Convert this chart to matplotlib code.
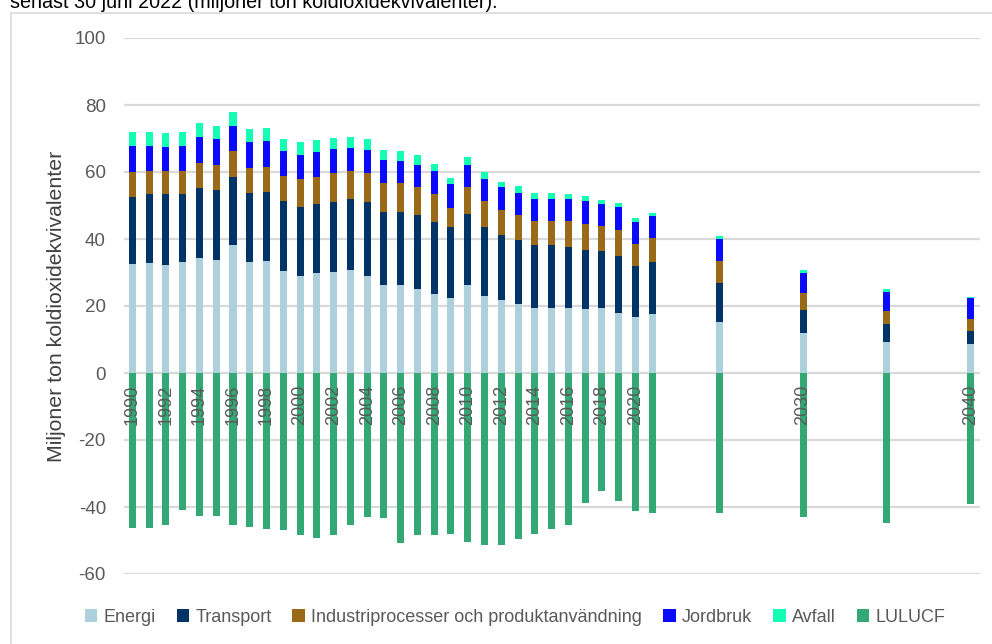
import matplotlib
matplotlib.use("Agg")
import matplotlib.pyplot as plt
from matplotlib.patches import Rectangle
import numpy as np

years = list(range(1990, 2022)) + [2025, 2030, 2035, 2040]

energi = [32.5, 32.8, 32.1, 33.1, 34.4, 33.7, 38.1, 33.1, 33.4, 30.4, 29.1, 29.8, 30.1, 30.8, 29.1,
          26.4, 26.4, 25.0, 23.6, 22.3, 26.4, 23.0, 21.7, 20.7, 19.4, 19.4, 19.4, 19.0, 19.4, 18.0, 16.7, 17.7,
          15.3, 12.0, 9.4, 8.8]
transport = [20.1, 20.5, 21.2, 20.2, 20.8, 20.9, 20.5, 20.5, 20.5, 20.9, 20.5, 20.5, 20.8, 21.2, 21.8,
             21.7, 21.7, 22.1, 21.5, 21.2, 21.0, 20.5, 19.4, 19.1, 18.7, 18.7, 18.1, 17.8, 17.1, 16.9, 15.2, 15.5,
             11.5, 6.7, 5.1, 3.6]
industri = [7.3, 7.0, 7.0, 7.0, 7.4, 7.6, 7.6, 7.6, 7.6, 7.6, 8.3, 8.3, 8.7, 8.3, 8.7,
            8.5, 8.5, 8.4, 8.2, 5.9, 8.1, 7.8, 7.6, 7.3, 7.3, 7.3, 7.9, 7.6, 7.3, 7.9, 6.7, 7.0,
            6.6, 5.3, 3.9, 3.6]
jordbruk = [7.9, 7.5, 7.2, 7.5, 7.9, 7.7, 7.6, 7.7, 7.7, 7.3, 7.3, 7.3, 7.3, 6.9, 6.9,
            6.9, 6.6, 6.7, 6.9, 6.9, 6.7, 6.6, 6.7, 6.6, 6.6, 6.6, 6.6, 7.0, 6.6, 6.7, 6.6, 6.6,
            6.6, 6.0, 5.9, 6.3]
avfall = [4.0, 4.0, 4.0, 4.0, 4.0, 3.9, 4.0, 3.9, 3.9, 3.6, 3.7, 3.6, 3.3, 3.3, 3.3,
          3.0, 3.0, 3.0, 2.3, 1.9, 2.3, 2.0, 1.6, 2.0, 1.7, 1.7, 1.4, 1.3, 1.3, 1.3, 1.0, 1.0,
          0.9, 0.7, 0.8, 0.3]
lulucf = [-46.3, -46.3, -45.4, -41.0, -42.7, -42.7, -45.4, -46.0, -46.7, -47.0, -48.3, -49.2, -48.3, -45.4, -43.0,
          -43.3, -50.6, -48.3, -48.3, -48.0, -50.3, -51.2, -51.2, -49.6, -48.0, -46.6, -45.3, -38.7, -35.3, -38.3, -41.3, -41.7,
          -41.7, -43.0, -44.9, -39.0]

series = ["Energi", "Transport", "Industriprocesser och produktanvändning", "Jordbruk", "Avfall", "LULUCF"]
colors = ["#ADD0DC", "#003466", "#9A6A18", "#0A0AFF", "#14FFB4", "#33A874"]

tick_years = [1990, 1992, 1994, 1996, 1998, 2000, 2002, 2004, 2006, 2008, 2010, 2012, 2014, 2016, 2018, 2020, 2030, 2040]
y_ticks = [-60, -40, -20, 0, 20, 40, 60, 80, 100]

plt.rcParams['font.family'] = ['Liberation Sans', 'DejaVu Sans']

fig = plt.figure(figsize=(9.92, 6.44), dpi=100)
ax = fig.add_axes([124/992, 1-574/644, (980-124)/992, (574-38)/644])

x = np.array(years)
w = 0.42
bottom = np.zeros(len(years))
for vals, c, name in zip([energi, transport, industri, jordbruk, avfall], colors[:5], series[:5]):
    ax.bar(x, vals, w, bottom=bottom, color=c, label=name, zorder=3)
    bottom += np.array(vals)
ax.bar(x, lulucf, w, color=colors[5], label=series[5], zorder=3)

ax.set_xlim(1989.5, 2040.55)
ax.set_ylim(-60, 100)
ax.set_yticks(y_ticks)
ax.set_yticklabels([str(v) for v in y_ticks], fontsize=13.5, color="#595959")
ax.tick_params(axis='y', length=0, pad=13)
ax.set_xticks([])
ax.grid(axis='y', color="#D9D9D9", linewidth=1.6, zorder=0)
for s in ax.spines.values():
    s.set_visible(False)

for ty in tick_years:
    ax.text(ty, -3.4, str(ty), rotation=90, ha='center', va='top', fontsize=13,
            color="#595959", zorder=4)

ax.set_ylabel("Miljoner ton koldioxidekvivalenter", fontsize=15.3, color="#404040")
ax.yaxis.set_label_coords(-(124-66)/856, 0.5)

leg = fig.legend(loc='center', bbox_to_anchor=(515/992, 1-617/644), ncol=6, frameon=False,
                 fontsize=13, handlelength=0.7, handleheight=0.7, handletextpad=0.35,
                 columnspacing=1.15, labelcolor="#595959")

fig.patches.append(Rectangle((11/992, -0.1), 1.2, 1-12.7/644+0.1, transform=fig.transFigure,
                             fill=False, edgecolor="#D9D9D9", linewidth=1.2))

fig.text(10/992, 1-8/644, "senast 30 juni 2022 (miljoner ton koldioxidekvivalenter).",
         fontsize=14.2, color="black", va='baseline', ha='left')

fig.savefig("out.png", dpi=100)
